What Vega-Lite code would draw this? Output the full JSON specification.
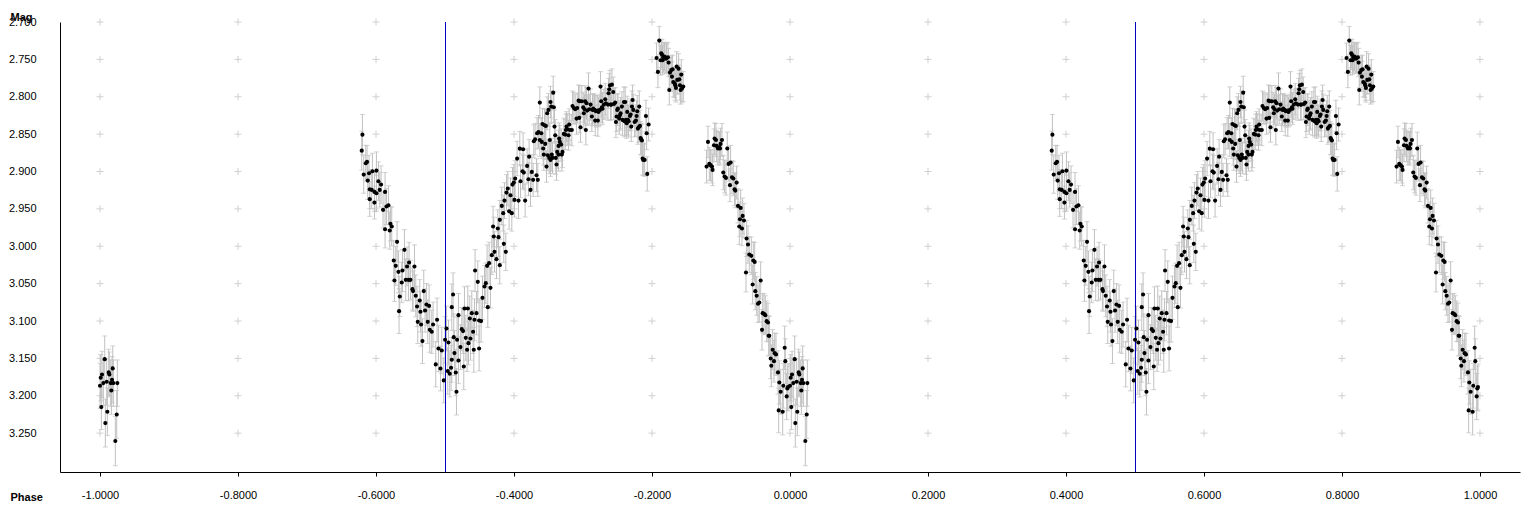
{
  "$schema": "https://vega.github.io/schema/vega-lite/v6.json",
  "width": 1460,
  "height": 450,
  "autosize": "none",
  "padding": {"left": 60, "top": 22, "right": 16, "bottom": 40},
  "background": "white",
  "config": {"view": {"stroke": null}},
  "datasets": {
    "grid": [
      {"ph": -1.0, "m": [2.7,2.75,2.8,2.85,2.9,2.95,3.0,3.05,3.1,3.15,3.2,3.25]},
      {"ph": -0.8, "m": [2.7,2.75,2.8,2.85,2.9,2.95,3.0,3.05,3.1,3.15,3.2,3.25]},
      {"ph": -0.6, "m": [2.7,2.75,2.8,2.85,2.9,2.95,3.0,3.05,3.1,3.15,3.2,3.25]},
      {"ph": -0.4, "m": [2.7,2.75,2.8,2.85,2.9,2.95,3.0,3.05,3.1,3.15,3.2,3.25]},
      {"ph": -0.2, "m": [2.7,2.75,2.8,2.85,2.9,2.95,3.0,3.05,3.1,3.15,3.2,3.25]},
      {"ph": 0.0, "m": [2.7,2.75,2.8,2.85,2.9,2.95,3.0,3.05,3.1,3.15,3.2,3.25]},
      {"ph": 0.2, "m": [2.7,2.75,2.8,2.85,2.9,2.95,3.0,3.05,3.1,3.15,3.2,3.25]},
      {"ph": 0.4, "m": [2.7,2.75,2.8,2.85,2.9,2.95,3.0,3.05,3.1,3.15,3.2,3.25]},
      {"ph": 0.6, "m": [2.7,2.75,2.8,2.85,2.9,2.95,3.0,3.05,3.1,3.15,3.2,3.25]},
      {"ph": 0.8, "m": [2.7,2.75,2.8,2.85,2.9,2.95,3.0,3.05,3.1,3.15,3.2,3.25]},
      {"ph": 1.0, "m": [2.7,2.75,2.8,2.85,2.9,2.95,3.0,3.05,3.1,3.15,3.2,3.25]}
    ],
    "vlines": [{"ph": -0.5}, {"ph": 0.5}],
    "pts": [
      {"ph":[-0.6207,0.3793],"m":2.8721,"e":0.026},
      {"ph":[-0.6197,0.3803],"m":2.8507,"e":0.027},
      {"ph":[-0.6178,0.3822],"m":2.9041,"e":0.025},
      {"ph":[-0.6149,0.3851],"m":2.8889,"e":0.024},
      {"ph":[-0.6130,0.3870],"m":2.8872,"e":0.022},
      {"ph":[-0.6120,0.3880],"m":2.9122,"e":0.025},
      {"ph":[-0.6101,0.3899],"m":2.9023,"e":0.024},
      {"ph":[-0.6091,0.3909],"m":2.9237,"e":0.026},
      {"ph":[-0.6091,0.3909],"m":2.9370,"e":0.023},
      {"ph":[-0.6062,0.3938],"m":2.9246,"e":0.025},
      {"ph":[-0.6052,0.3948],"m":2.8996,"e":0.024},
      {"ph":[-0.6023,0.3977],"m":2.9273,"e":0.026},
      {"ph":[-0.6023,0.3977],"m":2.9416,"e":0.022},
      {"ph":[-0.5994,0.4006],"m":2.8988,"e":0.025},
      {"ph":[-0.5994,0.4006],"m":2.9291,"e":0.024},
      {"ph":[-0.5965,0.4035],"m":2.9130,"e":0.026},
      {"ph":[-0.5946,0.4054],"m":2.9246,"e":0.023},
      {"ph":[-0.5927,0.4073],"m":2.9175,"e":0.025},
      {"ph":[-0.5898,0.4102],"m":2.9513,"e":0.024},
      {"ph":[-0.5869,0.4131],"m":2.9273,"e":0.026},
      {"ph":[-0.5869,0.4131],"m":2.9772,"e":0.025},
      {"ph":[-0.5849,0.4151],"m":2.9469,"e":0.024},
      {"ph":[-0.5820,0.4180],"m":2.9451,"e":0.026},
      {"ph":[-0.5801,0.4199],"m":2.9790,"e":0.025},
      {"ph":[-0.5791,0.4209],"m":2.9700,"e":0.023},
      {"ph":[-0.5772,0.4228],"m":2.9736,"e":0.026},
      {"ph":[-0.5743,0.4257],"m":3.0191,"e":0.027},
      {"ph":[-0.5733,0.4267],"m":3.0458,"e":0.028},
      {"ph":[-0.5714,0.4286],"m":3.0262,"e":0.026},
      {"ph":[-0.5695,0.4305],"m":2.9941,"e":0.027},
      {"ph":[-0.5675,0.4325],"m":3.0342,"e":0.028},
      {"ph":[-0.5656,0.4344],"m":3.0672,"e":0.027},
      {"ph":[-0.5666,0.4334],"m":3.0868,"e":0.030},
      {"ph":[-0.5627,0.4373],"m":3.0485,"e":0.027},
      {"ph":[-0.5617,0.4383],"m":3.0325,"e":0.028},
      {"ph":[-0.5588,0.4412],"m":3.0048,"e":0.027},
      {"ph":[-0.5569,0.4431],"m":3.0449,"e":0.028},
      {"ph":[-0.5550,0.4450],"m":3.0271,"e":0.026},
      {"ph":[-0.5530,0.4470],"m":3.0449,"e":0.028},
      {"ph":[-0.5521,0.4479],"m":3.0218,"e":0.027},
      {"ph":[-0.5501,0.4499],"m":3.0449,"e":0.026},
      {"ph":[-0.5472,0.4528],"m":3.0574,"e":0.028},
      {"ph":[-0.5463,0.4537],"m":3.0600,"e":0.027},
      {"ph":[-0.5443,0.4557],"m":3.0271,"e":0.029},
      {"ph":[-0.5424,0.4576],"m":3.0663,"e":0.028},
      {"ph":[-0.5405,0.4595],"m":3.0806,"e":0.027},
      {"ph":[-0.5395,0.4605],"m":3.1011,"e":0.029},
      {"ph":[-0.5366,0.4634],"m":3.0726,"e":0.028},
      {"ph":[-0.5356,0.4644],"m":3.0877,"e":0.027},
      {"ph":[-0.5347,0.4653],"m":3.1047,"e":0.029},
      {"ph":[-0.5327,0.4673],"m":3.1269,"e":0.030},
      {"ph":[-0.5308,0.4692],"m":3.0600,"e":0.028},
      {"ph":[-0.5289,0.4711],"m":3.0860,"e":0.029},
      {"ph":[-0.5269,0.4731],"m":3.0779,"e":0.028},
      {"ph":[-0.5250,0.4750],"m":3.1011,"e":0.029},
      {"ph":[-0.5231,0.4769],"m":3.0797,"e":0.028},
      {"ph":[-0.5221,0.4779],"m":3.1118,"e":0.030},
      {"ph":[-0.5192,0.4808],"m":3.1144,"e":0.029},
      {"ph":[-0.5173,0.4827],"m":3.1047,"e":0.030},
      {"ph":[-0.5134,0.4866],"m":3.1581,"e":0.030},
      {"ph":[-0.5115,0.4885],"m":3.0984,"e":0.029},
      {"ph":[-0.5095,0.4905],"m":3.1368,"e":0.031},
      {"ph":[-0.5066,0.4934],"m":3.1635,"e":0.030},
      {"ph":[-0.5047,0.4953],"m":3.1394,"e":0.031},
      {"ph":[-0.5018,0.4982],"m":3.1795,"e":0.030},
      {"ph":[-0.4999,0.5001],"m":3.1251,"e":0.031},
      {"ph":[-0.4979,0.5021],"m":3.1100,"e":0.030},
      {"ph":[-0.4960,0.5040],"m":3.1670,"e":0.031},
      {"ph":[-0.4950,0.5050],"m":3.1287,"e":0.030},
      {"ph":[-0.4931,0.5069],"m":3.1706,"e":0.031},
      {"ph":[-0.4912,0.5088],"m":3.1626,"e":0.030},
      {"ph":[-0.4902,0.5098],"m":3.0815,"e":0.031},
      {"ph":[-0.4902,0.5098],"m":3.1519,"e":0.030},
      {"ph":[-0.4883,0.5117],"m":3.0646,"e":0.029},
      {"ph":[-0.4873,0.5127],"m":3.1216,"e":0.031},
      {"ph":[-0.4863,0.5137],"m":3.1429,"e":0.030},
      {"ph":[-0.4844,0.5156],"m":3.1689,"e":0.031},
      {"ph":[-0.4834,0.5166],"m":3.1947,"e":0.031},
      {"ph":[-0.4825,0.5175],"m":3.1251,"e":0.030},
      {"ph":[-0.4805,0.5195],"m":3.0922,"e":0.029},
      {"ph":[-0.4805,0.5195],"m":3.1528,"e":0.031},
      {"ph":[-0.4776,0.5224],"m":3.1349,"e":0.030},
      {"ph":[-0.4757,0.5243],"m":3.1109,"e":0.029},
      {"ph":[-0.4738,0.5262],"m":3.1135,"e":0.030},
      {"ph":[-0.4728,0.5272],"m":3.1608,"e":0.031},
      {"ph":[-0.4718,0.5282],"m":3.0832,"e":0.029},
      {"ph":[-0.4699,0.5301],"m":3.1225,"e":0.030},
      {"ph":[-0.4680,0.5320],"m":3.1385,"e":0.029},
      {"ph":[-0.4670,0.5330],"m":3.0832,"e":0.030},
      {"ph":[-0.4660,0.5340],"m":3.1296,"e":0.029},
      {"ph":[-0.4641,0.5359],"m":3.0966,"e":0.030},
      {"ph":[-0.4631,0.5369],"m":3.1234,"e":0.029},
      {"ph":[-0.4612,0.5388],"m":3.0895,"e":0.030},
      {"ph":[-0.4593,0.5407],"m":3.1144,"e":0.029},
      {"ph":[-0.4583,0.5417],"m":3.1385,"e":0.030},
      {"ph":[-0.4573,0.5427],"m":3.0984,"e":0.028},
      {"ph":[-0.4564,0.5436],"m":3.0325,"e":0.028},
      {"ph":[-0.4544,0.5456],"m":3.0895,"e":0.029},
      {"ph":[-0.4525,0.5475],"m":3.0476,"e":0.028},
      {"ph":[-0.4506,0.5494],"m":3.0993,"e":0.029},
      {"ph":[-0.4506,0.5494],"m":3.1368,"e":0.030},
      {"ph":[-0.4477,0.5523],"m":3.1001,"e":0.028},
      {"ph":[-0.4457,0.5543],"m":3.0690,"e":0.029},
      {"ph":[-0.4428,0.5572],"m":3.0539,"e":0.028},
      {"ph":[-0.4409,0.5591],"m":3.0494,"e":0.027},
      {"ph":[-0.4390,0.5610],"m":3.0262,"e":0.028},
      {"ph":[-0.4380,0.5620],"m":3.0815,"e":0.027},
      {"ph":[-0.4361,0.5639],"m":3.0226,"e":0.028},
      {"ph":[-0.4341,0.5659],"m":3.0556,"e":0.027},
      {"ph":[-0.4322,0.5678],"m":3.0119,"e":0.026},
      {"ph":[-0.4303,0.5697],"m":2.9736,"e":0.027},
      {"ph":[-0.4293,0.5707],"m":2.9870,"e":0.026},
      {"ph":[-0.4283,0.5717],"m":3.0075,"e":0.027},
      {"ph":[-0.4254,0.5746],"m":3.0173,"e":0.026},
      {"ph":[-0.4235,0.5765],"m":2.9763,"e":0.025},
      {"ph":[-0.4225,0.5775],"m":2.9878,"e":0.026},
      {"ph":[-0.4206,0.5794],"m":3.0253,"e":0.025},
      {"ph":[-0.4206,0.5794],"m":2.9647,"e":0.026},
      {"ph":[-0.4177,0.5823],"m":2.9460,"e":0.025},
      {"ph":[-0.4157,0.5843],"m":2.9557,"e":0.024},
      {"ph":[-0.4148,0.5852],"m":2.9968,"e":0.025},
      {"ph":[-0.4138,0.5862],"m":2.9389,"e":0.024},
      {"ph":[-0.4119,0.5881],"m":3.0075,"e":0.025},
      {"ph":[-0.4109,0.5891],"m":2.9282,"e":0.024},
      {"ph":[-0.4090,0.5910],"m":2.9229,"e":0.023},
      {"ph":[-0.4071,0.5929],"m":2.9531,"e":0.024},
      {"ph":[-0.4051,0.5949],"m":2.9317,"e":0.023},
      {"ph":[-0.4032,0.5968],"m":2.9557,"e":0.024},
      {"ph":[-0.4022,0.5978],"m":2.9175,"e":0.023},
      {"ph":[-0.4003,0.5997],"m":2.9148,"e":0.024},
      {"ph":[-0.3993,0.6007],"m":2.9380,"e":0.023},
      {"ph":[-0.3984,0.6016],"m":2.9095,"e":0.024},
      {"ph":[-0.3955,0.6045],"m":2.8827,"e":0.023},
      {"ph":[-0.3935,0.6065],"m":2.9389,"e":0.024},
      {"ph":[-0.3916,0.6084],"m":2.8694,"e":0.023},
      {"ph":[-0.3906,0.6094],"m":2.9130,"e":0.022},
      {"ph":[-0.3877,0.6123],"m":2.8996,"e":0.023},
      {"ph":[-0.3868,0.6132],"m":2.8702,"e":0.022},
      {"ph":[-0.3858,0.6142],"m":2.9015,"e":0.023},
      {"ph":[-0.3839,0.6161],"m":2.9389,"e":0.022},
      {"ph":[-0.3810,0.6190],"m":2.8925,"e":0.023},
      {"ph":[-0.3790,0.6210],"m":2.9103,"e":0.022},
      {"ph":[-0.3781,0.6219],"m":2.8801,"e":0.023},
      {"ph":[-0.3761,0.6239],"m":2.9246,"e":0.022},
      {"ph":[-0.3742,0.6258],"m":2.9005,"e":0.023},
      {"ph":[-0.3723,0.6277],"m":2.9112,"e":0.022},
      {"ph":[-0.3713,0.6287],"m":2.8595,"e":0.022},
      {"ph":[-0.3694,0.6306],"m":2.8568,"e":0.021},
      {"ph":[-0.3674,0.6326],"m":2.9050,"e":0.022},
      {"ph":[-0.3665,0.6335],"m":2.8488,"e":0.021},
      {"ph":[-0.3655,0.6345],"m":2.9112,"e":0.022},
      {"ph":[-0.3645,0.6355],"m":2.8471,"e":0.022},
      {"ph":[-0.3626,0.6374],"m":2.8078,"e":0.021},
      {"ph":[-0.3626,0.6374],"m":2.8578,"e":0.022},
      {"ph":[-0.3606,0.6394],"m":2.8488,"e":0.021},
      {"ph":[-0.3597,0.6403],"m":2.8604,"e":0.022},
      {"ph":[-0.3587,0.6413],"m":2.8364,"e":0.021},
      {"ph":[-0.3577,0.6423],"m":2.8693,"e":0.022},
      {"ph":[-0.3568,0.6432],"m":2.8774,"e":0.021},
      {"ph":[-0.3558,0.6442],"m":2.8381,"e":0.022},
      {"ph":[-0.3548,0.6452],"m":2.8631,"e":0.021},
      {"ph":[-0.3539,0.6461],"m":2.8390,"e":0.022},
      {"ph":[-0.3529,0.6471],"m":2.8934,"e":0.021},
      {"ph":[-0.3519,0.6481],"m":2.8221,"e":0.022},
      {"ph":[-0.3510,0.6490],"m":2.8782,"e":0.021},
      {"ph":[-0.3500,0.6500],"m":2.8176,"e":0.022},
      {"ph":[-0.3490,0.6510],"m":2.8818,"e":0.021},
      {"ph":[-0.3481,0.6519],"m":2.8578,"e":0.022},
      {"ph":[-0.3471,0.6529],"m":2.8070,"e":0.021},
      {"ph":[-0.3471,0.6529],"m":2.8845,"e":0.022},
      {"ph":[-0.3461,0.6539],"m":2.8132,"e":0.021},
      {"ph":[-0.3452,0.6548],"m":2.8774,"e":0.022},
      {"ph":[-0.3442,0.6558],"m":2.8818,"e":0.021},
      {"ph":[-0.3432,0.6568],"m":2.7945,"e":0.022},
      {"ph":[-0.3423,0.6577],"m":2.8141,"e":0.021},
      {"ph":[-0.3413,0.6587],"m":2.8399,"e":0.022},
      {"ph":[-0.3403,0.6597],"m":2.8515,"e":0.021},
      {"ph":[-0.3394,0.6606],"m":2.8818,"e":0.022},
      {"ph":[-0.3384,0.6616],"m":2.8907,"e":0.021},
      {"ph":[-0.3374,0.6626],"m":2.8738,"e":0.022},
      {"ph":[-0.3355,0.6645],"m":2.8658,"e":0.021},
      {"ph":[-0.3355,0.6645],"m":2.8774,"e":0.022},
      {"ph":[-0.3345,0.6655],"m":2.8560,"e":0.021},
      {"ph":[-0.3336,0.6664],"m":2.8604,"e":0.022},
      {"ph":[-0.3316,0.6684],"m":2.8640,"e":0.021},
      {"ph":[-0.3307,0.6693],"m":2.8774,"e":0.022},
      {"ph":[-0.3297,0.6703],"m":2.8738,"e":0.021},
      {"ph":[-0.3278,0.6722],"m":2.8497,"e":0.021},
      {"ph":[-0.3258,0.6742],"m":2.8506,"e":0.020},
      {"ph":[-0.3249,0.6751],"m":2.8444,"e":0.021},
      {"ph":[-0.3239,0.6761],"m":2.8399,"e":0.020},
      {"ph":[-0.3229,0.6771],"m":2.8435,"e":0.021},
      {"ph":[-0.3210,0.6790],"m":2.8515,"e":0.020},
      {"ph":[-0.3200,0.6800],"m":2.8372,"e":0.021},
      {"ph":[-0.3191,0.6809],"m":2.8444,"e":0.020},
      {"ph":[-0.3162,0.6838],"m":2.8444,"e":0.021},
      {"ph":[-0.3152,0.6848],"m":2.8123,"e":0.020},
      {"ph":[-0.3133,0.6867],"m":2.8150,"e":0.021},
      {"ph":[-0.3113,0.6887],"m":2.8167,"e":0.020},
      {"ph":[-0.3094,0.6906],"m":2.8292,"e":0.021},
      {"ph":[-0.3084,0.6916],"m":2.8150,"e":0.020},
      {"ph":[-0.3065,0.6935],"m":2.8052,"e":0.021},
      {"ph":[-0.3055,0.6945],"m":2.8283,"e":0.020},
      {"ph":[-0.3046,0.6954],"m":2.8061,"e":0.021},
      {"ph":[-0.3036,0.6964],"m":2.8408,"e":0.020},
      {"ph":[-0.3017,0.6983],"m":2.8061,"e":0.021},
      {"ph":[-0.2997,0.7003],"m":2.8141,"e":0.020},
      {"ph":[-0.2988,0.7012],"m":2.8221,"e":0.021},
      {"ph":[-0.2978,0.7022],"m":2.8167,"e":0.020},
      {"ph":[-0.2968,0.7032],"m":2.8061,"e":0.021},
      {"ph":[-0.2959,0.7041],"m":2.8444,"e":0.020},
      {"ph":[-0.2949,0.7051],"m":2.8087,"e":0.021},
      {"ph":[-0.2939,0.7061],"m":2.8185,"e":0.020},
      {"ph":[-0.2920,0.7080],"m":2.7891,"e":0.021},
      {"ph":[-0.2910,0.7090],"m":2.8167,"e":0.020},
      {"ph":[-0.2891,0.7109],"m":2.8105,"e":0.021},
      {"ph":[-0.2872,0.7128],"m":2.8265,"e":0.020},
      {"ph":[-0.2862,0.7138],"m":2.8176,"e":0.021},
      {"ph":[-0.2852,0.7148],"m":2.8159,"e":0.020},
      {"ph":[-0.2833,0.7167],"m":2.8176,"e":0.021},
      {"ph":[-0.2823,0.7177],"m":2.8319,"e":0.020},
      {"ph":[-0.2814,0.7186],"m":2.8194,"e":0.021},
      {"ph":[-0.2794,0.7206],"m":2.8185,"e":0.020},
      {"ph":[-0.2785,0.7215],"m":2.8319,"e":0.021},
      {"ph":[-0.2775,0.7225],"m":2.8203,"e":0.020},
      {"ph":[-0.2755,0.7245],"m":2.8176,"e":0.021},
      {"ph":[-0.2746,0.7254],"m":2.7864,"e":0.020},
      {"ph":[-0.2736,0.7264],"m":2.8061,"e":0.021},
      {"ph":[-0.2726,0.7274],"m":2.8141,"e":0.020},
      {"ph":[-0.2717,0.7283],"m":2.8159,"e":0.021},
      {"ph":[-0.2697,0.7303],"m":2.8105,"e":0.020},
      {"ph":[-0.2678,0.7322],"m":2.8034,"e":0.021},
      {"ph":[-0.2668,0.7332],"m":2.8087,"e":0.020},
      {"ph":[-0.2639,0.7361],"m":2.8105,"e":0.021},
      {"ph":[-0.2630,0.7370],"m":2.7954,"e":0.020},
      {"ph":[-0.2620,0.7380],"m":2.7900,"e":0.021},
      {"ph":[-0.2610,0.7390],"m":2.7847,"e":0.020},
      {"ph":[-0.2601,0.7399],"m":2.8105,"e":0.021},
      {"ph":[-0.2591,0.7409],"m":2.8105,"e":0.020},
      {"ph":[-0.2581,0.7419],"m":2.7838,"e":0.021},
      {"ph":[-0.2562,0.7438],"m":2.7936,"e":0.020},
      {"ph":[-0.2552,0.7448],"m":2.8096,"e":0.021},
      {"ph":[-0.2533,0.7467],"m":2.8078,"e":0.020},
      {"ph":[-0.2523,0.7477],"m":2.8337,"e":0.021},
      {"ph":[-0.2513,0.7487],"m":2.8265,"e":0.020},
      {"ph":[-0.2504,0.7496],"m":2.8176,"e":0.021},
      {"ph":[-0.2494,0.7506],"m":2.8159,"e":0.020},
      {"ph":[-0.2475,0.7525],"m":2.8292,"e":0.021},
      {"ph":[-0.2465,0.7535],"m":2.8247,"e":0.020},
      {"ph":[-0.2455,0.7545],"m":2.8221,"e":0.021},
      {"ph":[-0.2436,0.7564],"m":2.8132,"e":0.020},
      {"ph":[-0.2426,0.7574],"m":2.8310,"e":0.021},
      {"ph":[-0.2407,0.7593],"m":2.8070,"e":0.020},
      {"ph":[-0.2397,0.7603],"m":2.8328,"e":0.021},
      {"ph":[-0.2388,0.7612],"m":2.8070,"e":0.020},
      {"ph":[-0.2378,0.7622],"m":2.8310,"e":0.021},
      {"ph":[-0.2368,0.7632],"m":2.8355,"e":0.020},
      {"ph":[-0.2359,0.7641],"m":2.8203,"e":0.021},
      {"ph":[-0.2349,0.7651],"m":2.8310,"e":0.020},
      {"ph":[-0.2339,0.7661],"m":2.8328,"e":0.021},
      {"ph":[-0.2320,0.7680],"m":2.8257,"e":0.020},
      {"ph":[-0.2310,0.7690],"m":2.8239,"e":0.021},
      {"ph":[-0.2301,0.7699],"m":2.8399,"e":0.020},
      {"ph":[-0.2291,0.7709],"m":2.8132,"e":0.021},
      {"ph":[-0.2281,0.7719],"m":2.8043,"e":0.020},
      {"ph":[-0.2272,0.7728],"m":2.8176,"e":0.021},
      {"ph":[-0.2252,0.7748],"m":2.8337,"e":0.020},
      {"ph":[-0.2233,0.7767],"m":2.8319,"e":0.021},
      {"ph":[-0.2223,0.7777],"m":2.8257,"e":0.020},
      {"ph":[-0.2214,0.7786],"m":2.8194,"e":0.021},
      {"ph":[-0.2204,0.7796],"m":2.8426,"e":0.021},
      {"ph":[-0.2194,0.7806],"m":2.8408,"e":0.020},
      {"ph":[-0.2185,0.7815],"m":2.8132,"e":0.021},
      {"ph":[-0.2175,0.7825],"m":2.8390,"e":0.021},
      {"ph":[-0.2165,0.7835],"m":2.8551,"e":0.022},
      {"ph":[-0.2156,0.7844],"m":2.8569,"e":0.021},
      {"ph":[-0.2146,0.7854],"m":2.8586,"e":0.022},
      {"ph":[-0.2136,0.7864],"m":2.8827,"e":0.022},
      {"ph":[-0.2127,0.7873],"m":2.8845,"e":0.021},
      {"ph":[-0.2107,0.7893],"m":2.8845,"e":0.022},
      {"ph":[-0.2088,0.7912],"m":2.8257,"e":0.021},
      {"ph":[-0.2078,0.7922],"m":2.8488,"e":0.022},
      {"ph":[-0.2069,0.7931],"m":2.9032,"e":0.023},
      {"ph":[-0.2049,0.7951],"m":2.8372,"e":0.022},
      {"ph":[-0.1934,0.8066],"m":2.7481,"e":0.020},
      {"ph":[-0.1914,0.8086],"m":2.7668,"e":0.021},
      {"ph":[-0.1895,0.8105],"m":2.7249,"e":0.019},
      {"ph":[-0.1876,0.8124],"m":2.7511,"e":0.020},
      {"ph":[-0.1866,0.8134],"m":2.7419,"e":0.019},
      {"ph":[-0.1856,0.8144],"m":2.7437,"e":0.020},
      {"ph":[-0.1847,0.8153],"m":2.7511,"e":0.019},
      {"ph":[-0.1837,0.8163],"m":2.7472,"e":0.020},
      {"ph":[-0.1818,0.8182],"m":2.7463,"e":0.019},
      {"ph":[-0.1798,0.8202],"m":2.7490,"e":0.020},
      {"ph":[-0.1789,0.8211],"m":2.7481,"e":0.019},
      {"ph":[-0.1769,0.8231],"m":2.7472,"e":0.020},
      {"ph":[-0.1759,0.8241],"m":2.7543,"e":0.019},
      {"ph":[-0.1750,0.8250],"m":2.7909,"e":0.020},
      {"ph":[-0.1740,0.8260],"m":2.7677,"e":0.020},
      {"ph":[-0.1721,0.8279],"m":2.7642,"e":0.019},
      {"ph":[-0.1711,0.8289],"m":2.7731,"e":0.020},
      {"ph":[-0.1702,0.8298],"m":2.7633,"e":0.019},
      {"ph":[-0.1692,0.8308],"m":2.7802,"e":0.020},
      {"ph":[-0.1672,0.8328],"m":2.7820,"e":0.019},
      {"ph":[-0.1663,0.8337],"m":2.7847,"e":0.020},
      {"ph":[-0.1653,0.8347],"m":2.7882,"e":0.019},
      {"ph":[-0.1643,0.8357],"m":2.7597,"e":0.020},
      {"ph":[-0.1634,0.8366],"m":2.7775,"e":0.019},
      {"ph":[-0.1614,0.8386],"m":2.7624,"e":0.020},
      {"ph":[-0.1605,0.8395],"m":2.7767,"e":0.019},
      {"ph":[-0.1595,0.8405],"m":2.7847,"e":0.020},
      {"ph":[-0.1585,0.8415],"m":2.7909,"e":0.019},
      {"ph":[-0.1576,0.8424],"m":2.7704,"e":0.020},
      {"ph":[-0.1566,0.8434],"m":2.7891,"e":0.019},
      {"ph":[-0.1547,0.8453],"m":2.7864,"e":0.020},
      {"ph":[-0.1209,0.8791],"m":2.8934,"e":0.022},
      {"ph":[-0.1189,0.8811],"m":2.8604,"e":0.021},
      {"ph":[-0.1170,0.8830],"m":2.8898,"e":0.022},
      {"ph":[-0.1151,0.8849],"m":2.8915,"e":0.021},
      {"ph":[-0.1131,0.8869],"m":2.8934,"e":0.022},
      {"ph":[-0.1122,0.8878],"m":2.8979,"e":0.021},
      {"ph":[-0.1102,0.8898],"m":2.8649,"e":0.022},
      {"ph":[-0.1093,0.8907],"m":2.8560,"e":0.021},
      {"ph":[-0.1073,0.8927],"m":2.8578,"e":0.022},
      {"ph":[-0.1064,0.8936],"m":2.8658,"e":0.021},
      {"ph":[-0.1044,0.8956],"m":2.8693,"e":0.022},
      {"ph":[-0.1025,0.8975],"m":2.8676,"e":0.021},
      {"ph":[-0.1015,0.8985],"m":2.8693,"e":0.022},
      {"ph":[-0.1006,0.8994],"m":2.8631,"e":0.021},
      {"ph":[-0.0986,0.9014],"m":2.8578,"e":0.022},
      {"ph":[-0.0967,0.9033],"m":2.9014,"e":0.023},
      {"ph":[-0.0948,0.9052],"m":2.9067,"e":0.022},
      {"ph":[-0.0928,0.9072],"m":2.9086,"e":0.023},
      {"ph":[-0.0909,0.9091],"m":2.8693,"e":0.022},
      {"ph":[-0.0890,0.9110],"m":2.8898,"e":0.023},
      {"ph":[-0.0870,0.9130],"m":2.9183,"e":0.022},
      {"ph":[-0.0861,0.9139],"m":2.8880,"e":0.023},
      {"ph":[-0.0841,0.9159],"m":2.9077,"e":0.022},
      {"ph":[-0.0822,0.9178],"m":2.9094,"e":0.023},
      {"ph":[-0.0803,0.9197],"m":2.9237,"e":0.022},
      {"ph":[-0.0793,0.9207],"m":2.9255,"e":0.023},
      {"ph":[-0.0773,0.9227],"m":2.9148,"e":0.022},
      {"ph":[-0.0754,0.9246],"m":2.9460,"e":0.023},
      {"ph":[-0.0735,0.9265],"m":2.9736,"e":0.024},
      {"ph":[-0.0725,0.9275],"m":2.9638,"e":0.023},
      {"ph":[-0.0715,0.9285],"m":2.9487,"e":0.024},
      {"ph":[-0.0696,0.9304],"m":2.9763,"e":0.023},
      {"ph":[-0.0686,0.9314],"m":2.9594,"e":0.024},
      {"ph":[-0.0667,0.9333],"m":2.9656,"e":0.023},
      {"ph":[-0.0638,0.9362],"m":3.0351,"e":0.026},
      {"ph":[-0.0629,0.9371],"m":2.9897,"e":0.024},
      {"ph":[-0.0609,0.9391],"m":2.9977,"e":0.025},
      {"ph":[-0.0590,0.9410],"m":3.0111,"e":0.024},
      {"ph":[-0.0561,0.9439],"m":3.0128,"e":0.025},
      {"ph":[-0.0541,0.9459],"m":3.0512,"e":0.026},
      {"ph":[-0.0532,0.9468],"m":3.0191,"e":0.025},
      {"ph":[-0.0512,0.9488],"m":3.0209,"e":0.026},
      {"ph":[-0.0503,0.9497],"m":3.0601,"e":0.025},
      {"ph":[-0.0483,0.9517],"m":3.0663,"e":0.026},
      {"ph":[-0.0464,0.9536],"m":3.0770,"e":0.025},
      {"ph":[-0.0445,0.9555],"m":3.0752,"e":0.026},
      {"ph":[-0.0425,0.9575],"m":3.0458,"e":0.025},
      {"ph":[-0.0406,0.9594],"m":3.1118,"e":0.027},
      {"ph":[-0.0396,0.9604],"m":3.0895,"e":0.026},
      {"ph":[-0.0377,0.9623],"m":3.0904,"e":0.027},
      {"ph":[-0.0358,0.9642],"m":3.0922,"e":0.026},
      {"ph":[-0.0338,0.9662],"m":3.1002,"e":0.027},
      {"ph":[-0.0319,0.9681],"m":3.1020,"e":0.026},
      {"ph":[-0.0309,0.9691],"m":3.1198,"e":0.027},
      {"ph":[-0.0300,0.9700],"m":3.1198,"e":0.026},
      {"ph":[-0.0280,0.9720],"m":3.1501,"e":0.027},
      {"ph":[-0.0271,0.9729],"m":3.1599,"e":0.028},
      {"ph":[-0.0251,0.9749],"m":3.1385,"e":0.027},
      {"ph":[-0.0232,0.9768],"m":3.1537,"e":0.028},
      {"ph":[-0.0222,0.9778],"m":3.1430,"e":0.027},
      {"ph":[-0.0203,0.9797],"m":3.1447,"e":0.028},
      {"ph":[-0.0174,0.9826],"m":3.1688,"e":0.029},
      {"ph":[-0.0164,0.9836],"m":3.2196,"e":0.030},
      {"ph":[-0.0155,0.9845],"m":3.1822,"e":0.029},
      {"ph":[-0.0135,0.9865],"m":3.1947,"e":0.030},
      {"ph":[-0.0106,0.9894],"m":3.2214,"e":0.031},
      {"ph":[-0.0097,0.9903],"m":3.1866,"e":0.030},
      {"ph":[-0.0077,0.9923],"m":3.1358,"e":0.029},
      {"ph":[-0.0068,0.9932],"m":3.1537,"e":0.030},
      {"ph":[-0.0048,0.9952],"m":3.2009,"e":0.031},
      {"ph":[-0.0039,0.9961],"m":3.1902,"e":0.030},
      {"ph":[-0.0029,0.9971],"m":3.1884,"e":0.031},
      {"ph":[0.0000,-1.0000],"m":3.1866,"e":0.030},
      {"ph":[0.0010,-0.9990],"m":3.1759,"e":0.031},
      {"ph":[0.0019,-0.9981],"m":3.2152,"e":0.030},
      {"ph":[0.0029,-0.9971],"m":3.1715,"e":0.031},
      {"ph":[0.0048,-0.9952],"m":3.1831,"e":0.030},
      {"ph":[0.0068,-0.9932],"m":3.1510,"e":0.031},
      {"ph":[0.0077,-0.9923],"m":3.2366,"e":0.032},
      {"ph":[0.0097,-0.9903],"m":3.1813,"e":0.031},
      {"ph":[0.0106,-0.9894],"m":3.2214,"e":0.032},
      {"ph":[0.0126,-0.9874],"m":3.1688,"e":0.031},
      {"ph":[0.0135,-0.9865],"m":3.1715,"e":0.030},
      {"ph":[0.0155,-0.9845],"m":3.1831,"e":0.031},
      {"ph":[0.0164,-0.9836],"m":3.1929,"e":0.032},
      {"ph":[0.0174,-0.9826],"m":3.1786,"e":0.031},
      {"ph":[0.0184,-0.9816],"m":3.1634,"e":0.030},
      {"ph":[0.0193,-0.9807],"m":3.1831,"e":0.031},
      {"ph":[0.0222,-0.9778],"m":3.2606,"e":0.033},
      {"ph":[0.0242,-0.9758],"m":3.2250,"e":0.032},
      {"ph":[0.0251,-0.9749],"m":3.1831,"e":0.031}
    ]
  },
  "layer": [
    {
      "data": {"name": "grid"},
      "transform": [{"flatten": ["m"]}],
      "mark": {"type": "point", "shape": "M-1,0L1,0M0,-1L0,1", "filled": false, "stroke": "#d0d0d0", "strokeWidth": 1, "size": 49, "opacity": 1},
      "encoding": {
        "x": {
          "field": "ph",
          "type": "quantitative",
          "title": "Phase",
          "scale": {"domain": [-1.058, 1.058], "nice": false, "zero": false},
          "axis": {
            "title": "Phase",
            "values": [-1, -0.8, -0.6, -0.4, -0.2, 0, 0.2, 0.4, 0.6, 0.8, 1],
            "labelExpr": "replace(format(datum.value, '.4f'), '\u2212', '-')",
            "grid": false,
            "domainColor": "#000000",
            "tickColor": "#000000",
            "tickSize": 4,
            "labelFont": "Liberation Sans",
            "labelFontSize": 11,
            "labelColor": "#000000",
            "labelBaseline": "alphabetic",
            "labelPadding": 22,
            "labelFlush": false,
            "labelOverlap": false,
            "titleFont": "Liberation Sans",
            "titleFontSize": 11,
            "titleFontWeight": "bold",
            "titleColor": "#000000",
            "titleAlign": "left",
            "titleBaseline": "alphabetic",
            "titleAnchor": "start",
            "titleX": -50,
            "titleY": 28
          }
        },
        "y": {
          "field": "m",
          "type": "quantitative",
          "title": "Mag",
          "scale": {"domain": [2.7, 3.302], "reverse": true, "nice": false, "zero": false},
          "axis": {
            "title": "Mag",
            "values": [2.7, 2.75, 2.8, 2.85, 2.9, 2.95, 3.0, 3.05, 3.1, 3.15, 3.2, 3.25],
            "format": ".3f",
            "grid": false,
            "ticks": false,
            "tickSize": 0,
            "domainColor": "#000000",
            "labelFont": "Liberation Sans",
            "labelFontSize": 11,
            "labelColor": "#000000",
            "labelPadding": 24,
            "labelOverlap": false,
            "titleFont": "Liberation Sans",
            "titleFontSize": 11,
            "titleFontWeight": "bold",
            "titleColor": "#000000",
            "titleAngle": 0,
            "titleAlign": "left",
            "titleBaseline": "alphabetic",
            "titleAnchor": "start",
            "titleX": -50,
            "titleY": -2
          }
        }
      }
    },
    {
      "data": {"name": "pts"},
      "transform": [{"flatten": ["ph"]}],
      "mark": {"type": "errorbar", "ticks": {"size": 5, "thickness": 1, "color": "#c0c0c0"}, "rule": {"color": "#c0c0c0", "strokeWidth": 1}, "color": "#c0c0c0"},
      "encoding": {
        "x": {"field": "ph", "type": "quantitative", "title": "Phase"},
        "y": {"field": "m", "type": "quantitative", "title": "Mag"},
        "yError": {"field": "e"}
      }
    },
    {
      "data": {"name": "vlines"},
      "mark": {"type": "rule", "color": "#0000c0", "strokeWidth": 1, "xOffset": 0.5},
      "encoding": {
        "x": {"field": "ph", "type": "quantitative", "title": "Phase"}
      }
    },
    {
      "data": {"name": "pts"},
      "transform": [{"flatten": ["ph"]}],
      "mark": {"type": "point", "shape": "circle", "filled": true, "color": "#000000", "size": 17, "opacity": 1, "strokeWidth": 0},
      "encoding": {
        "x": {"field": "ph", "type": "quantitative", "title": "Phase"},
        "y": {"field": "m", "type": "quantitative", "title": "Mag"}
      }
    }
  ]
}
